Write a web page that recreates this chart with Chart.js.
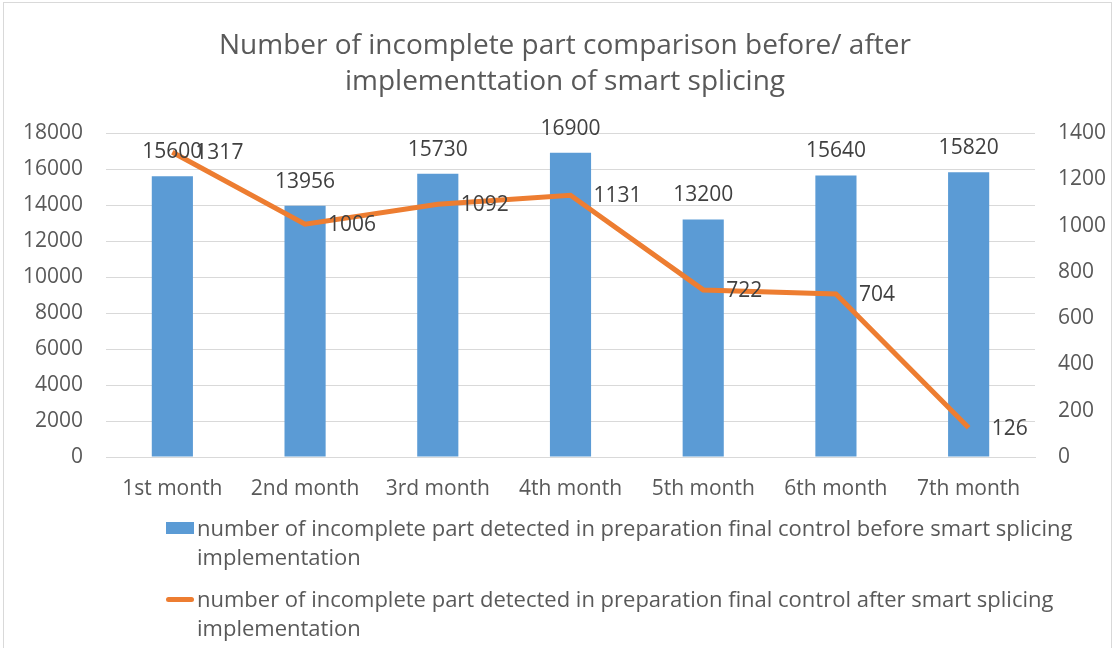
<!DOCTYPE html>
<html>
<head>
<meta charset="utf-8">
<script src="https://cdn.jsdelivr.net/npm/chart.js@4.4.1/dist/chart.umd.min.js"></script>
<style>
  html, body { margin: 0; padding: 0; background: #fff; }
  #wrap { position: relative; width: 1115px; height: 648px; overflow: hidden; }
  #frame { position: absolute; left: 3px; top: 2px; width: 1109px; height: 700px; border: 1px solid #d9d9d9; box-sizing: border-box; }
  #title { position: absolute; left: 0; top: 25px; width: 1130px; text-align: center; color: #595959;
           font-family: "Open Sans", sans-serif; font-size: 28px; line-height: 36px; }
  #legend { position: absolute; left: 166px; top: 513px; width: 940px; color: #595959;
            font-family: "Open Sans", sans-serif; font-size: 22px; line-height: 29px; }
  .item { position: relative; padding-left: 31px; margin-bottom: 13px; }
  .sw { position: absolute; left: 0; }
  .sw.bar { top: 9px; width: 28px; height: 12px; background: #5b9bd5; }
  .sw.line { top: 13px; width: 28px; height: 5px; border-radius: 3px; background: #ed7d31; }
  canvas { position: absolute; left: 0; top: 0; }
</style>
</head>
<body>
<div id="wrap">
  <div id="frame"></div>
  <canvas id="chart" width="1115" height="648"></canvas>
  <div id="title">Number of incomplete part comparison before/ after<br>implementtation of smart splicing</div>
  <div id="legend"></div>
</div>
<script>
// categories + values
const MONTHS = ['1st month','2nd month','3rd month','4th month','5th month','6th month','7th month'];
const BEFORE = [15600, 13956, 15730, 16900, 13200, 15640, 15820];
const AFTER = [1317, 1006, 1092, 1131, 722, 704, 126];
const BEFORE_LABEL = 'number of incomplete part detected in preparation final control before smart splicing implementation';
const AFTER_LABEL = 'number of incomplete part detected in preparation final control after smart splicing implementation';

const BLUE = '#5b9bd5';
const ORANGE = '#ed7d31';
const TXT = '#595959';
const GRID = '#d9d9d9';
const FONT = '"Open Sans", sans-serif';

// legend as html (wrapped text)
const legendEl = document.getElementById('legend');
legendEl.innerHTML = `
  <div class="item"><span class="sw bar"></span>${BEFORE_LABEL}</div>
  <div class="item"><span class="sw line"></span>${AFTER_LABEL}</div>
`;

// value labels: above bars, right of line points
const valueLabels = {
  id: 'valueLabels',
  afterDatasetsDraw(chart){
    const ctx = chart.ctx;
    ctx.save();
    ctx.font = '21px ' + FONT;
    ctx.fillStyle = '#404040';
    chart.data.datasets.forEach((ds, i) => {
      const meta = chart.getDatasetMeta(i);
      meta.data.forEach((el, j) => {
        const v = ds.data[j];
        if(ds.type === 'bar'){
          ctx.textAlign = 'center';
          ctx.textBaseline = 'middle';
          ctx.fillText(v, el.x, el.y - 24);
        } else {
          ctx.textAlign = 'left';
          ctx.textBaseline = 'middle';
          ctx.fillText(v, el.x + 23, el.y + 1);
        }
      });
    });
    ctx.restore();
  }
};

const plain = v => String(v); // no thousands separators

new Chart(document.getElementById('chart'), {
  data: {
    labels: MONTHS,
    datasets: [
      {
        type: 'line',
        label: AFTER_LABEL,
        data: AFTER,
        yAxisID: 'y1',
        borderColor: ORANGE,
        borderWidth: 5,
        pointRadius: 0,
        tension: 0,
        order: 0
      },
      {
        type: 'bar',
        label: BEFORE_LABEL,
        data: BEFORE,
        yAxisID: 'y',
        backgroundColor: BLUE,
        barPercentage: 0.31,
        categoryPercentage: 1,
        order: 1
      }
    ]
  },
  options: {
    responsive: false,
    animation: false,
    layout: { padding: { top: 133, bottom: 141, left: 0, right: 0 } },
    plugins: {
      legend: { display: false },
      title: { display: false },
      tooltip: { enabled: false }
    },
    scales: {
      x: {
        grid: { display: false, drawTicks: false },
        border: { color: GRID },
        ticks: { color: TXT, font: { family: FONT, size: 21 }, padding: 19, maxRotation: 0 },
        afterFit: s => { s.height = 50; }
      },
      y: {
        position: 'left',
        min: 0, max: 18000,
        grid: { color: GRID, drawTicks: false },
        border: { display: false },
        ticks: { stepSize: 2000, color: TXT, font: { family: FONT, size: 21 }, padding: 23, callback: plain },
        afterFit: s => { s.width = 106; }
      },
      y1: {
        position: 'right',
        min: 0, max: 1400,
        grid: { display: false, drawTicks: false },
        border: { display: false },
        ticks: { stepSize: 200, color: TXT, font: { family: FONT, size: 21 }, padding: 23, callback: plain },
        afterFit: s => { s.width = 80; }
      }
    }
  },
  plugins: [valueLabels]
});
</script>
</body>
</html>
